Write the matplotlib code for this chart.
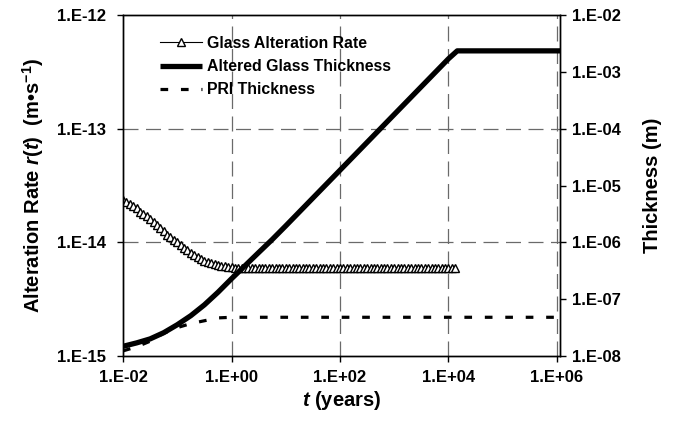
import numpy as np
import matplotlib
matplotlib.use("Agg")
import matplotlib.pyplot as plt
from matplotlib.ticker import FixedLocator, FuncFormatter, NullLocator

plt.rcParams["font.family"] = ["Liberation Sans", "DejaVu Sans"]
plt.rcParams["font.weight"] = "bold"
plt.rcParams["mathtext.fontset"] = "custom"
plt.rcParams["mathtext.rm"] = "Liberation Sans:bold"
plt.rcParams["mathtext.it"] = "Liberation Sans:italic:bold"
plt.rcParams["mathtext.bf"] = "Liberation Sans:bold"

# model time steps (years), 16 per decade
t_rate = 10 ** np.arange(-2.0, 4.13, 0.0625)

# glass alteration rate r(t), m/s
rate_decline = [2.34e-14, 2.26e-14, 2.19e-14, 2.09e-14, 2.00e-14, 1.86e-14,
                1.78e-14, 1.70e-14, 1.60e-14, 1.51e-14, 1.43e-14, 1.35e-14,
                1.26e-14, 1.17e-14, 1.11e-14, 1.05e-14, 1.00e-14, 9.44e-15,
                8.91e-15, 8.51e-15, 8.04e-15, 7.76e-15, 7.41e-15, 7.16e-15,
                6.92e-15, 6.76e-15, 6.61e-15, 6.46e-15, 6.31e-15, 6.24e-15,
                6.17e-15, 6.10e-15, 6.03e-15]
rate_final = 6.0e-15
rate = rate_decline + [rate_final] * (len(t_rate) - len(rate_decline))

# altered glass thickness (m)
t_thick = [0.01, 0.0178, 0.0316, 0.0562, 0.1, 0.178, 0.316, 0.562, 1.0,
           1.78, 3.16, 5.62, 10.0, 100.0, 1000.0, 1.0e4, 1.45e4, 1.16e6]
thick = [1.48e-8, 1.70e-8, 2.00e-8, 2.57e-8, 3.55e-8, 5.13e-8, 7.94e-8,
         1.32e-7, 2.29e-7, 3.89e-7, 6.61e-7, 1.12e-6, 1.95e-6, 1.86e-5,
         1.78e-4, 1.70e-3, 2.34e-3, 2.34e-3]

# PRI thickness (m)
t_pri = [0.01, 0.0178, 0.0316, 0.0562, 0.1, 0.178, 0.316, 0.562, 1.0, 1.16e6]
pri = [1.23e-8, 1.45e-8, 1.82e-8, 2.51e-8, 3.16e-8, 3.72e-8, 4.17e-8,
       4.68e-8, 4.8e-8, 4.8e-8]

x_ticks = [1e-2, 1e0, 1e2, 1e4, 1e6]
rate_ticks = [1e-15, 1e-14, 1e-13, 1e-12]
thick_ticks = [1e-8, 1e-7, 1e-6, 1e-5, 1e-4, 1e-3, 1e-2]


def excel_fmt(v, pos=None):
    return "1.E{:+03d}".format(int(round(np.log10(v))))


fig = plt.figure(figsize=(6.73, 4.23), dpi=100)
ax = fig.add_axes([0.1828, 0.1584, 0.650, 0.8061])
ax2 = ax.twinx()

grid_kw = dict(color="#6a6a6a", lw=0.9, dashes=(12, 6))
for xv in x_ticks[1:]:
    ax.axvline(xv, zorder=0, **grid_kw)
for yv in rate_ticks[1:-1]:
    ax.axhline(yv, zorder=0, **grid_kw)

l_rate, = ax.plot(t_rate, rate, color="black", lw=0.8, marker="^",
                  markersize=6, markerfacecolor="white",
                  markeredgecolor="black", markeredgewidth=1.0)
l_thick, = ax2.plot(t_thick, thick, color="black", lw=3.8,
                    solid_capstyle="butt")
l_pri, = ax2.plot(t_pri, pri, color="black", lw=2.3, dashes=(2.4, 4.0))

for a in (ax, ax2):
    a.set_xscale("log")
    a.set_yscale("log")
    a.set_xlim(1e-2, 1.16e6)
    for s in a.spines.values():
        s.set_linewidth(1.0)

ax.set_ylim(1e-15, 1e-12)
ax2.set_ylim(1e-8, 1e-2)

ax.xaxis.set_major_locator(FixedLocator(x_ticks))
ax.xaxis.set_minor_locator(NullLocator())
ax.yaxis.set_major_locator(FixedLocator(rate_ticks))
ax.yaxis.set_minor_locator(NullLocator())
ax2.yaxis.set_major_locator(FixedLocator(thick_ticks))
ax2.yaxis.set_minor_locator(NullLocator())
for axis in (ax.xaxis, ax.yaxis, ax2.yaxis):
    axis.set_major_formatter(FuncFormatter(excel_fmt))

ax.tick_params(axis="x", direction="out", length=4, width=1.0, pad=6,
               labelsize=12)
ax.tick_params(axis="y", direction="out", length=4, width=1.0, pad=8,
               labelsize=12)
ax2.tick_params(axis="y", direction="out", length=4, width=1.0, pad=4,
                labelsize=12)

ax.set_xlabel(r"$t$ (years)", fontsize=14.5, fontweight="bold", labelpad=3)
ax.set_ylabel(r"Alteration Rate $r(t)$  (m•s$^{-1}$)", fontsize=14.5,
              fontweight="bold", labelpad=8)
ax2.set_ylabel("Thickness (m)", fontsize=14.5, fontweight="bold",
               rotation=90, labelpad=16)

ax2.legend([l_rate, l_thick, l_pri],
           ["Glass Alteration Rate", "Altered Glass Thickness", "PRI Thickness"],
           loc="upper left", bbox_to_anchor=(0.085, 0.939), frameon=False,
           fontsize=11.4, numpoints=1, handlelength=2.65, handletextpad=0.3,
           labelspacing=0.52, borderpad=0, borderaxespad=0)

fig.savefig("out.png", dpi=100)
